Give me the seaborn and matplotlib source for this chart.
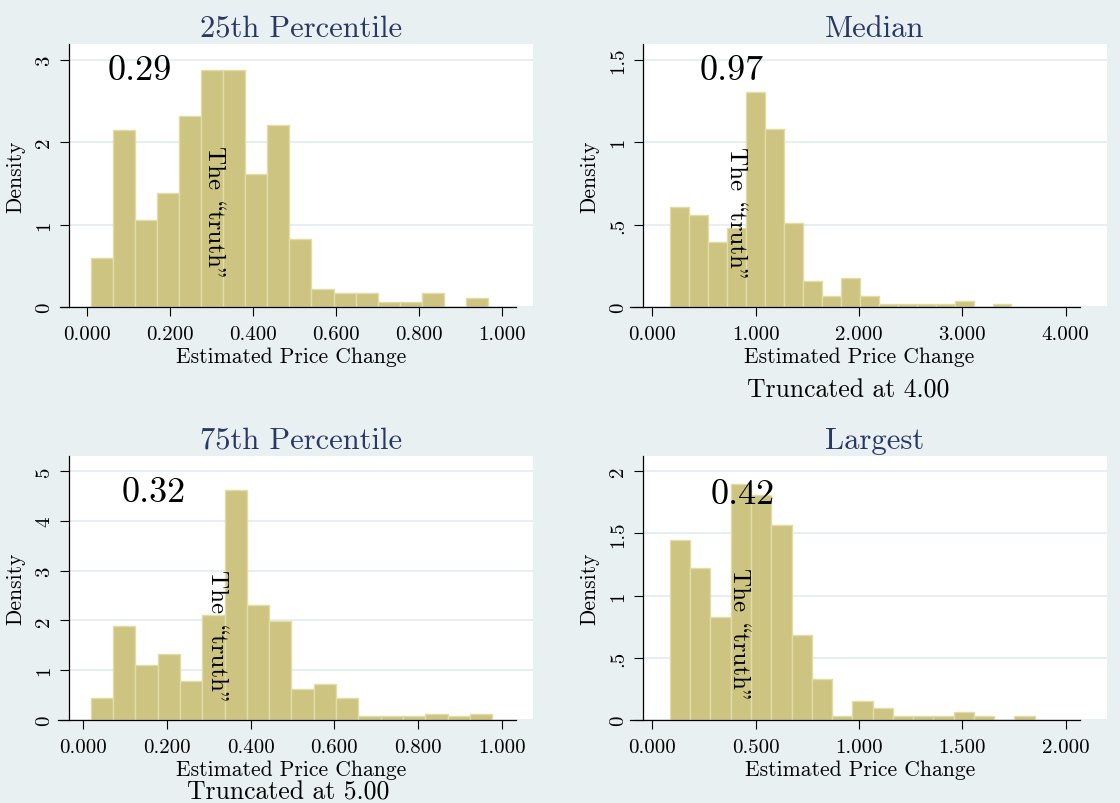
import numpy as np
import pandas as pd
import matplotlib
matplotlib.use("Agg")
import matplotlib.pyplot as plt
import seaborn as sns

# ---------------- data ----------------
titles = ["25th Percentile", "Median", "75th Percentile", "Largest"]
true_labels = ["0.29", "0.97", "0.32", "0.42"]
notes = ["", "Truncated at 4.00", "Truncated at 5.00", ""]

p25_density = [0.60, 2.15, 1.05, 1.38, 2.32, 2.88, 2.88, 1.61, 2.21, 0.83,
               0.22, 0.17, 0.17, 0.06, 0.06, 0.17, 0.0, 0.11]
median_density = [0.604, 0.555, 0.394, 0.478, 1.302, 1.078, 0.509, 0.157, 0.067,
                  0.176, 0.067, 0.018, 0.018, 0.018, 0.018, 0.034, 0.0, 0.018]
p75_density = [0.45, 1.88, 1.10, 1.33, 0.79, 2.10, 4.62, 2.31, 1.98, 0.62,
               0.73, 0.45, 0.074, 0.074, 0.074, 0.12, 0.074, 0.12]
largest_density = [1.45, 1.22, 0.83, 1.90, 1.81, 1.57, 0.685, 0.333, 0.032,
                   0.153, 0.097, 0.032, 0.032, 0.032, 0.067, 0.032, 0.0, 0.032]

bin_start = [0.008, 0.171, 0.018, 0.0855]
bin_width = [0.0533, 0.1836, 0.0533, 0.098]

xtick_vals = [[0, 0.2, 0.4, 0.6, 0.8, 1.0], [0, 1, 2, 3, 4],
              [0, 0.2, 0.4, 0.6, 0.8, 1.0], [0, 0.5, 1.0, 1.5, 2.0]]
xtick_labels = [["0.000", "0.200", "0.400", "0.600", "0.800", "1.000"],
                ["0.000", "1.000", "2.000", "3.000", "4.000"],
                ["0.000", "0.200", "0.400", "0.600", "0.800", "1.000"],
                ["0.000", "0.500", "1.000", "1.500", "2.000"]]
ytick_vals = [[0, 1, 2, 3], [0, 0.5, 1, 1.5], [0, 1, 2, 3, 4, 5], [0, 0.5, 1, 1.5, 2]]
ytick_labels = [["0", "1", "2", "3"], ["0", ".5", "1", "1.5"],
                ["0", "1", "2", "3", "4", "5"], ["0", ".5", "1", "1.5", "2"]]

densities = [p25_density, median_density, p75_density, largest_density]

# ---------------- style ----------------
sns.set_theme(style="white")
plt.rcParams["font.family"] = ["cmr10", "DejaVu Serif"]
plt.rcParams["axes.formatter.use_mathtext"] = True

BG = "#E8F0F2"
GRID = "#E6EFF1"
FILL = "#CCC480"
EDGE = "#E2DCA8"
TITLE = "#283763"

fig = plt.figure(figsize=(11.2, 8.04), dpi=100, facecolor=BG)

W, H = 1120.0, 804.0
axes_px = [(69, 45, 533, 308), (643, 45, 1107, 308),
           (69, 457, 533, 721), (643, 457, 1107, 721)]
xlims = [(-0.044, 1.0755), (-0.09, 4.40), (-0.034, 1.075), (-0.045, 2.20)]
ylims = [(0, 3.19), (0, 1.595), (0, 5.30), (0, 2.123)]
axis_bounds = [(-0.066, 1.035), (-0.215, 4.134), (-0.06, 1.034), (-0.108, 2.067)]
num_pos = [(0.05, 2.77), (0.462, 1.383), (0.092, 4.39), (0.283, 1.745)]
truth_pos = [(0.292, 1.96), (0.755, 0.979), (0.306, 3.03), (0.39, 1.227)]
xlabel_x = [0.478, 0.466, 0.478, 0.467]

for i in range(4):
    l, t, r, b = axes_px[i]
    ax = fig.add_axes([l / W, 1 - b / H, (r - l) / W, (b - t) / H])
    ax.set_facecolor("white")

    n = len(densities[i])
    edges = [bin_start[i] + bin_width[i] * k for k in range(n + 1)]
    centers = [(edges[k] + edges[k + 1]) / 2 for k in range(n)]
    df = pd.DataFrame({"x": centers, "w": densities[i]})
    sns.histplot(data=df, x="x", weights="w", bins=edges, stat="count",
                 ax=ax, color=FILL, edgecolor=EDGE, linewidth=1.0, alpha=1.0,
                 zorder=2)

    ax.set_xlim(*xlims[i])
    ax.set_ylim(*ylims[i])
    ax.set_xticks(xtick_vals[i])
    ax.set_xticklabels(xtick_labels[i], fontsize=15)
    ax.set_yticks(ytick_vals[i])
    ax.set_yticklabels(ytick_labels[i], fontsize=15, rotation=90, va="center")

    ax.yaxis.grid(True, color=GRID, linewidth=1.4, zorder=0)
    ax.xaxis.grid(False)
    ax.set_axisbelow(True)

    for s in ["top", "right"]:
        ax.spines[s].set_visible(False)
    ax.spines["bottom"].set_bounds(*axis_bounds[i])
    ax.spines["left"].set_bounds(0, ylims[i][1])
    for s in ["bottom", "left"]:
        ax.spines[s].set_color("black")
        ax.spines[s].set_linewidth(0.9)

    ax.tick_params(axis="both", direction="out", length=6.5, width=0.8,
                   color="black", labelcolor="black", bottom=True, left=True)
    ax.tick_params(axis="x", pad=6.5)
    ax.tick_params(axis="y", pad=5)

    ax.set_xlabel("Estimated Price Change", fontsize=15.5, color="black")
    ax.xaxis.set_label_coords(xlabel_x[i], -0.150)
    ax.set_ylabel("Density", fontsize=15.5, color="black")
    ax.yaxis.set_label_coords(-0.095, 0.5)

    ax.set_title(titles[i], fontsize=22, color=TITLE, pad=6)

    ax.text(num_pos[i][0], num_pos[i][1], true_labels[i], fontsize=26,
            ha="left", va="baseline", color="black", zorder=5)
    ax.text(truth_pos[i][0], truth_pos[i][1], 'The \\truth"', fontsize=18,
            rotation=270, rotation_mode="anchor", ha="left", va="baseline",
            color="black", zorder=5)

# notes under panels
fig.text(848 / W, 1 - 398 / H, notes[1], fontsize=18.5, ha="center",
         va="baseline", color="black")
fig.text(288 / W, 1 - 800 / H, notes[2], fontsize=18.5, ha="center",
         va="baseline", color="black")

fig.savefig("out.png", dpi=100, facecolor=BG)
